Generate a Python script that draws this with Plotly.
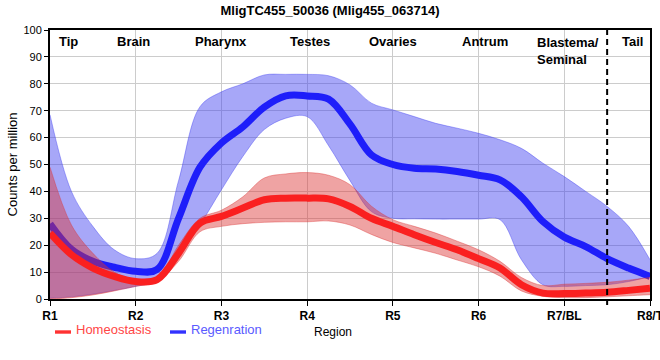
import plotly.graph_objects as go

# Data
x_pos = [1, 1.25, 1.5, 1.75, 2, 2.25, 2.5, 2.75, 3, 3.25, 3.5, 3.75, 4, 4.25, 4.5, 4.75,
         5, 5.25, 5.5, 5.75, 6, 6.25, 6.5, 6.75, 7, 7.25, 7.5, 7.75, 8]

regen_mean = [28, 18.5, 14, 11.8, 10.3, 11, 30, 49, 58, 64, 71.3, 75.5, 75.5, 74.3, 65, 53.6,
              50, 48.6, 48.3, 47.4, 46, 44.3, 38, 28.8, 23, 19.5, 15, 11.5, 8.4]
regen_upper = [68.5, 40, 27, 18.3, 15, 17, 44, 71.5, 77, 80, 83.3, 83.5, 83.5, 83, 79.6, 72.8,
               70.3, 67.8, 65.3, 63.5, 61.6, 59.2, 56, 50.5, 45.5, 40, 34.4, 27, 14.6]
regen_lower = [0.3, 0.8, 1.8, 3.2, 4.7, 7, 16.5, 27.6, 40.6, 53, 63, 67.2, 67.8, 57, 44, 32.5,
               30, 29.8, 29.7, 29.7, 29.7, 29.5, 14.6, 5.3, 4.7, 5, 5.3, 6.5, 8.4]

homeo_mean = [24.5, 16.5, 11.5, 8.4, 6.5, 7.2, 17, 28.2, 30.7, 33.8, 36.9, 37.5, 37.5, 37.2, 34.4, 30,
              27, 23.9, 21, 18.3, 15, 11.5, 5.3, 2.2, 2, 2.2, 2.5, 3.2, 4]
homeo_upper = [49, 27.5, 17, 10, 7, 7.5, 20, 30, 33, 38, 45, 46.5, 47, 46, 42.5, 34.5,
               29.5, 27, 24.5, 21.5, 18.3, 14, 8, 5, 5.5, 5.8, 6.2, 7, 8]
homeo_lower = [0, 0.5, 1.5, 3, 4.7, 6.5, 14, 25, 27, 28, 28.5, 28.7, 28.7, 29, 27.5, 24,
               21, 19, 17, 14.5, 12, 8.5, 3, 1, 0.5, 0.5, 0.8, 1.2, 1.6]

tick_vals = [1, 2, 3, 4, 5, 6, 7, 8]
tick_labels = ["R1", "R2", "R3", "R4", "R5", "R6", "R7/BL", "R8/T"]

region_names = ["Tip", "Brain", "Pharynx", "Testes", "Ovaries", "Antrum", "Tail"]
region_x = [1.21, 1.97, 3.0, 4.03, 5.0, 6.08, 7.79]

FONT = "Liberation Sans, Arial, sans-serif"
BLUE = "rgb(30,30,250)"
RED = "rgb(250,32,32)"
BLUE_BAND = "rgba(60,60,240,0.45)"
RED_BAND = "rgba(220,50,50,0.45)"

fig = go.Figure()

def band(lower, upper, fillcol, edgecol):
    fig.add_trace(go.Scatter(x=x_pos, y=lower, mode="lines", line=dict(width=0.8, color=edgecol, shape="spline"),
                             showlegend=False, hoverinfo="skip"))
    fig.add_trace(go.Scatter(x=x_pos, y=upper, mode="lines", fill="tonexty", fillcolor=fillcol,
                             line=dict(width=0.8, color=edgecol, shape="spline"),
                             showlegend=False, hoverinfo="skip"))

band(regen_lower, regen_upper, BLUE_BAND, "rgba(60,60,240,0.5)")
fig.add_trace(go.Scatter(x=x_pos, y=regen_mean, mode="lines", line=dict(width=7, color=BLUE, shape="spline"),
                         showlegend=False))
band(homeo_lower, homeo_upper, RED_BAND, "rgba(220,50,50,0.5)")
fig.add_trace(go.Scatter(x=x_pos, y=homeo_mean, mode="lines", line=dict(width=7, color=RED, shape="spline"),
                         showlegend=False))

annotations = []
for name, xv in zip(region_names, region_x):
    annotations.append(dict(x=xv, y=0.959, xref="x", yref="paper", text="<b>%s</b>" % name,
                            showarrow=False, xanchor="center", yanchor="middle",
                            font=dict(family=FONT, size=13, color="black")))
annotations.append(dict(x=6.66, y=0.99, xref="x", yref="paper", text="<b>Blastema/<br>Seminal</b>",
                        showarrow=False, xanchor="left", yanchor="top", align="left",
                        font=dict(family=FONT, size=13, color="black")))
# legend + axis titles
annotations.append(dict(x=0.04, y=-0.115, xref="paper", yref="paper", text="Homeostasis",
                        showarrow=False, xanchor="left", yanchor="middle",
                        font=dict(family=FONT, size=13, color="rgb(255,70,70)")))
annotations.append(dict(x=0.2317, y=-0.115, xref="paper", yref="paper", text="Regenration",
                        showarrow=False, xanchor="left", yanchor="middle",
                        font=dict(family=FONT, size=13, color="rgb(90,90,255)")))
annotations.append(dict(x=0.4717, y=-0.1227, xref="paper", yref="paper", text="Region",
                        showarrow=False, xanchor="center", yanchor="middle",
                        font=dict(family=FONT, size=12, color="black")))
annotations.append(dict(x=-0.0617, y=0.5, xref="paper", yref="paper", text="Counts per million",
                        showarrow=False, xanchor="center", yanchor="middle", textangle=-90,
                        font=dict(family=FONT, size=13, color="black")))

shapes = [
    dict(type="line", xref="x", yref="paper", x0=7.5, x1=7.5, y0=-0.022, y1=1,
         line=dict(color="black", width=2, dash="6px,4px")),
    dict(type="rect", xref="paper", yref="paper", x0=0.0083, x1=0.035, y0=-0.129, y1=-0.1164,
         fillcolor="rgb(255,50,50)", line=dict(width=0)),
    dict(type="rect", xref="paper", yref="paper", x0=0.2, x1=0.2267, y0=-0.129, y1=-0.1164,
         fillcolor="rgb(50,50,255)", line=dict(width=0)),
]

fig.update_layout(
    width=660, height=360,
    margin=dict(l=50, r=10, t=30, b=61, autoexpand=False),
    paper_bgcolor="white", plot_bgcolor="white",
    title=dict(text="<b>MligTC455_50036 (Mlig455_063714)</b>", x=0.5, xanchor="center",
               y=0.972, yanchor="middle", font=dict(family=FONT, size=13, color="black")),
    font=dict(family=FONT, color="black"),
    showlegend=False,
    hovermode=False,
    annotations=annotations,
    shapes=shapes,
    xaxis=dict(range=[1, 8], tickmode="array", tickvals=tick_vals, automargin=False,
               ticktext=["<b>%s</b>" % t for t in tick_labels],
               tickfont=dict(family=FONT, size=12, color="black"),
               ticklabeloverflow="allow",
               showgrid=True, gridcolor="#cccccc", gridwidth=1,
               showline=True, linecolor="black", linewidth=2, mirror=True,
               ticks="outside", ticklen=5, tickcolor="black", zeroline=False),
    yaxis=dict(range=[0, 100], dtick=10, automargin=False,
               tickfont=dict(family=FONT, size=11, color="black"),
               showgrid=True, gridcolor="#cccccc", gridwidth=1,
               showline=True, linecolor="black", linewidth=2, mirror=True,
               ticks="outside", ticklen=4, tickcolor="black", zeroline=False),
)

fig.write_html("out.html", config={"displayModeBar": False},
               post_script="document.body.style.margin='0px';")
